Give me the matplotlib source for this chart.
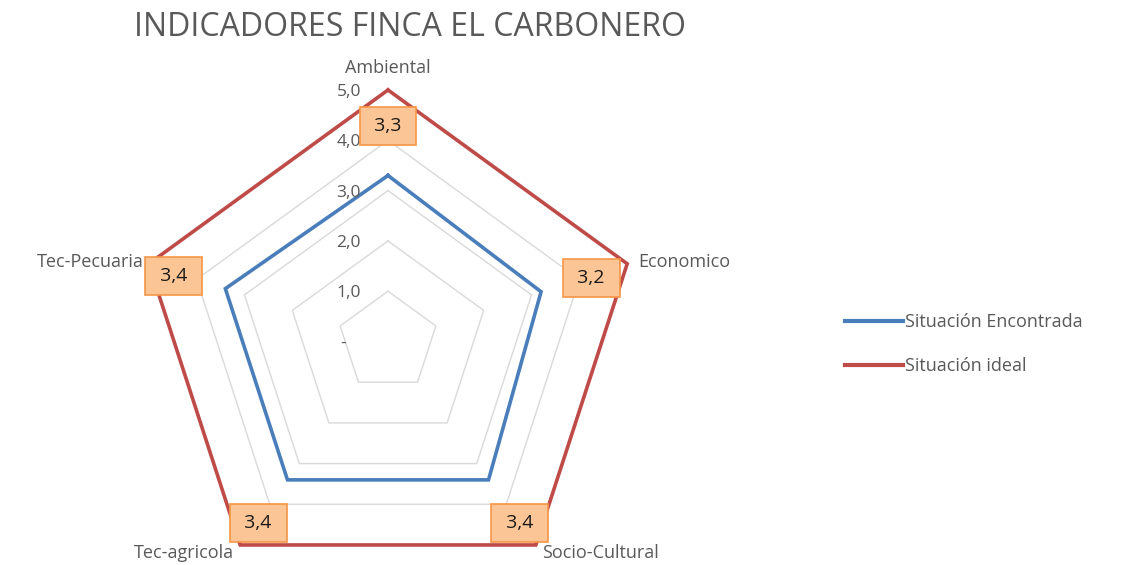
"""
Radar chart: indicadores finca El Carbonero (situacion encontrada vs ideal)
"""
import matplotlib
matplotlib.use('Agg')
import matplotlib.pyplot as plt
import numpy as np
from matplotlib.lines import Line2D

# datos
categorias = ['Ambiental', 'Economico', 'Socio-Cultural', 'Tec-agricola', 'Tec-Pecuaria']
encontrada = [3.3, 3.2, 3.4, 3.4, 3.4]
ideal = [5, 5, 5, 5, 5]
etiquetas_datos = ['3,3', '3,2', '3,4', '3,4', '3,4']
niveles = [0, 1, 2, 3, 4, 5]
niveles_txt = ['-', '1,0', '2,0', '3,0', '4,0', '5,0']

AZUL = '#4a7ebb'
ROJO = '#be4b48'
GRIS = '#595959'

plt.rcParams['font.family'] = ['Open Sans', 'DejaVu Sans']

W, H = 1122, 565
fig = plt.figure(figsize=(W / 100, H / 100), dpi=100)

# centro y radio del grafico en pixeles
cx, cy, R = 388, 341.5, 251.5
ax = fig.add_axes([(cx - R) / W, (H - cy - R) / H, 2 * R / W, 2 * R / H], projection='polar')
ax.set_theta_offset(np.pi / 2)
ax.set_theta_direction(-1)
ax.set_ylim(0, 5)
ax.set_xticks([])
ax.set_yticks([])
ax.grid(False)
ax.spines['polar'].set_visible(False)
ax.patch.set_alpha(0)

n = len(categorias)
ang = np.linspace(0, 2 * np.pi, n, endpoint=False)
ang_c = np.append(ang, ang[0])

# rejilla pentagonal
for lv in niveles[1:]:
    ax.plot(ang_c, [lv] * (n + 1), color='#d9d9d9', lw=1.0, zorder=1, clip_on=False)

# series
ax.plot(ang_c, np.append(encontrada, encontrada[0]), color=AZUL, lw=2.6, zorder=3,
        clip_on=False, solid_joinstyle='miter')
ax.plot(ang_c, np.append(ideal, ideal[0]), color=ROJO, lw=2.6, zorder=3,
        clip_on=False, solid_joinstyle='miter')

# etiquetas del eje radial
for lv, txt in zip(niveles, niveles_txt):
    dx = -42 if txt == '-' else -27
    ax.annotate(txt, xy=(0, lv), xytext=(dx, -2), textcoords='offset pixels',
                ha='right', va='center', fontsize=12.5, color=GRIS, annotation_clip=False)

# etiquetas de categorias
desp_cat = [(0, 22, 'center'), (11, 2, 'left'), (6, -8, 'left'), (-6, -8, 'right'), (-5, 2, 'right')]
for a, nombre, (dx, dy, ha) in zip(ang, categorias, desp_cat):
    ax.annotate(nombre, xy=(a, 5), xytext=(dx, dy), textcoords='offset pixels',
                ha=ha, va='center', fontsize=13, color=GRIS, annotation_clip=False)

# etiquetas de datos (cajas naranjas)
desp_dat = [(0, -36), (-36, -14), (-16, 22), (18, 22), (25, -12)]
for a, txt, (dx, dy) in zip(ang, etiquetas_datos, desp_dat):
    ax.annotate(' ' + txt + ' ', xy=(a, 5), xytext=(dx, dy), textcoords='offset pixels',
                ha='center', va='center', fontsize=14, color='#1a1a1a', zorder=5,
                annotation_clip=False,
                bbox=dict(boxstyle='square,pad=0.5', facecolor='#fcc596',
                          edgecolor='#f79646', lw=1.2))

# titulo
fig.text(410 / W, 1 - 27 / H, 'INDICADORES FINCA EL CARBONERO', ha='center', va='center',
         fontsize=23, color=GRIS)

# leyenda
handles = [Line2D([], [], color=AZUL, lw=3), Line2D([], [], color=ROJO, lw=3)]
fig.legend(handles, ['Situación Encontrada', 'Situación ideal'], loc='center left',
           bbox_to_anchor=(845 / W, 1 - 344 / H), frameon=False, fontsize=13,
           handlelength=3.2, handletextpad=0.1, labelspacing=1.45, borderpad=0,
           borderaxespad=0, labelcolor=GRIS)

fig.savefig('out.png', dpi=100)
